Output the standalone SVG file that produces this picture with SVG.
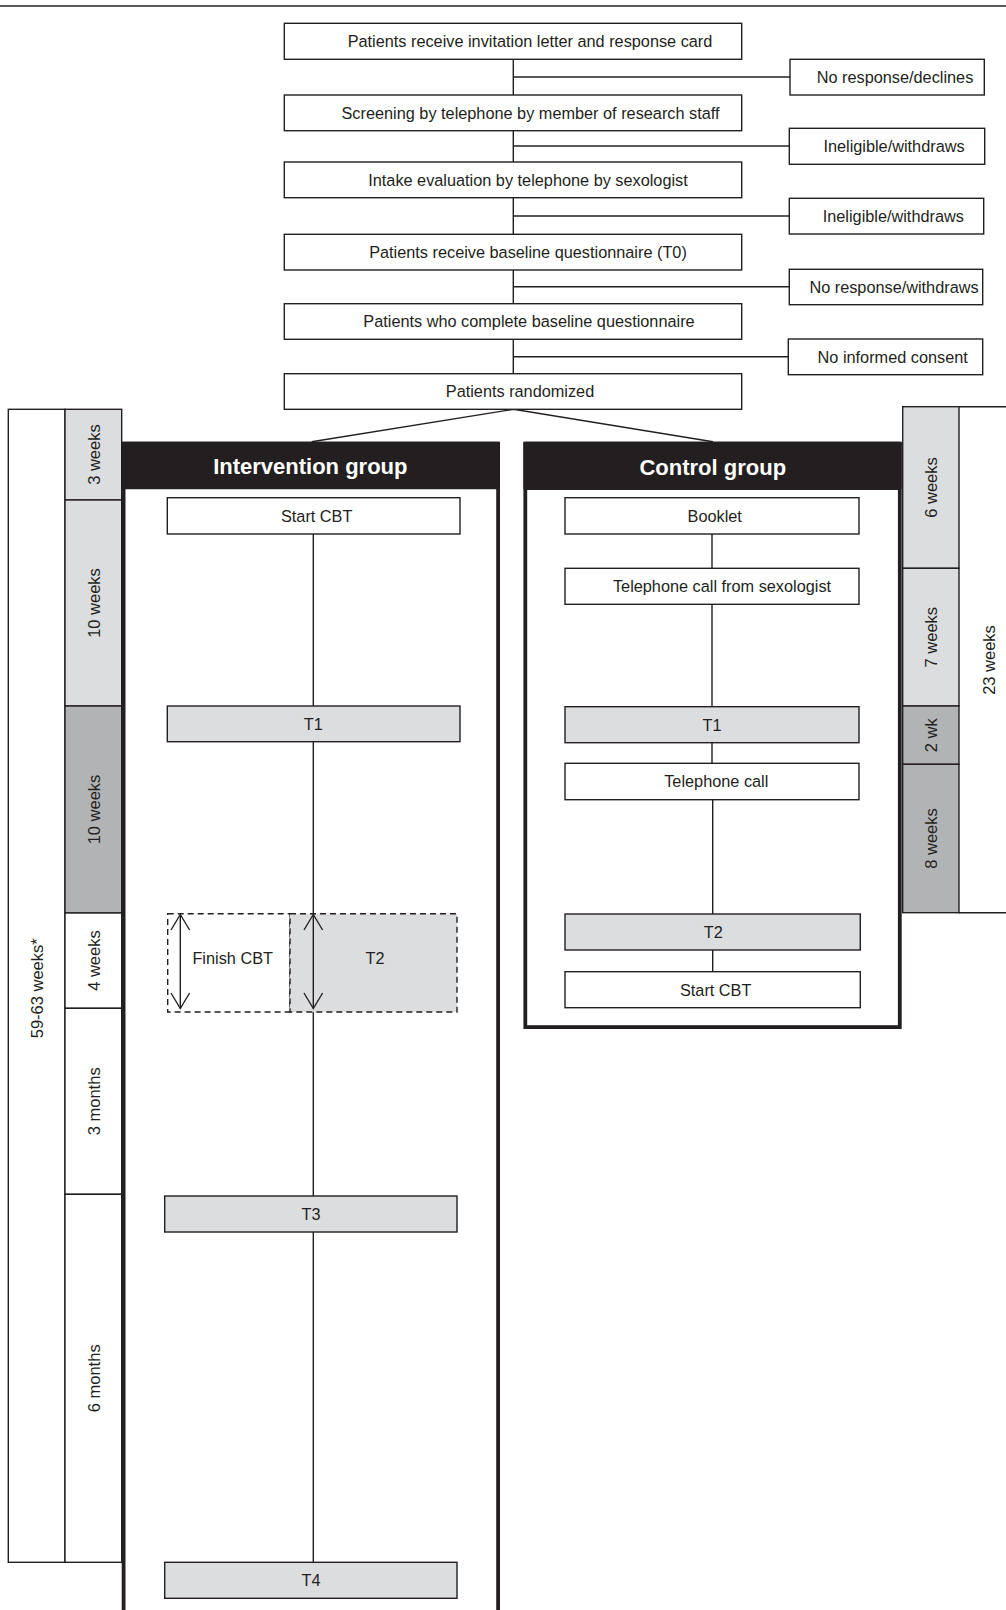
<svg xmlns="http://www.w3.org/2000/svg" width="1006" height="1610" viewBox="0 0 1006 1610">
<style>
text{font-family:"Liberation Sans",Arial,sans-serif;fill:#231f20;font-size:16.3px;text-anchor:middle}
.box{fill:#fff;stroke:#231f20;stroke-width:1.4}
.gbox{fill:#dcdddf;stroke:#231f20;stroke-width:1.4}
.dbox{fill:#b2b3b5;stroke:#231f20;stroke-width:1.4}
.dash{stroke:#231f20;stroke-width:1.4;stroke-dasharray:6 4}
.ln{stroke:#231f20;stroke-width:1.4;fill:none}
.frame{fill:#fff;stroke:#231f20;stroke-width:3.8}
.hdr{fill:#231f20}
.ht{fill:#fff;font-weight:bold;font-size:22px}
.rt{font-size:16.5px}
</style>
<rect x="0" y="0" width="1006" height="1610" fill="#fff"/>
<line x1="0" y1="6" x2="1006" y2="6" stroke="#231f20" stroke-width="1.7"/>

<g id="connectors">
<line class="ln" x1="513.3" y1="59.3" x2="513.3" y2="95"/>
<line class="ln" x1="513.3" y1="130.7" x2="513.3" y2="162"/>
<line class="ln" x1="513.3" y1="197.7" x2="513.3" y2="234.3"/>
<line class="ln" x1="513.3" y1="270" x2="513.3" y2="303.7"/>
<line class="ln" x1="513.3" y1="339.3" x2="513.3" y2="373.7"/>
<line class="ln" x1="513.3" y1="77" x2="790" y2="77"/>
<line class="ln" x1="513.3" y1="146" x2="789.3" y2="146"/>
<line class="ln" x1="513.3" y1="216" x2="789.3" y2="216"/>
<line class="ln" x1="513.3" y1="286.7" x2="789.3" y2="286.7"/>
<line class="ln" x1="513.3" y1="356.7" x2="788.3" y2="356.7"/>
<polyline class="ln" points="311.7,441.7 513.5,409.3 713,441.7" stroke-width="1.8"/>
</g>

<g id="n1"><rect class="box" x="284.3" y="23.3" width="457.4" height="36"/><text x="530" y="47">Patients receive invitation letter and response card</text></g>
<g id="n2"><rect class="box" x="284.3" y="95" width="457.4" height="35.7"/><text x="530.5" y="118.6">Screening by telephone by member of research staff</text></g>
<g id="n3"><rect class="box" x="284.3" y="162" width="457.4" height="35.7"/><text x="528" y="185.6">Intake evaluation by telephone by sexologist</text></g>
<g id="n4"><rect class="box" x="284.3" y="234.3" width="457.4" height="35.7"/><text x="528" y="257.9">Patients receive baseline questionnaire (T0)</text></g>
<g id="n5"><rect class="box" x="284.3" y="303.7" width="457.4" height="35.6"/><text x="529" y="327.3">Patients who complete baseline questionnaire</text></g>
<g id="n6"><rect class="box" x="284.3" y="373.7" width="457.4" height="35.6"/><text x="520" y="397.3">Patients randomized</text></g>

<g id="s1"><rect class="box" x="790" y="59.3" width="194.3" height="35.7"/><text x="895" y="82.9">No response/declines</text></g>
<g id="s2"><rect class="box" x="789.3" y="128.3" width="195.4" height="36"/><text x="894" y="152.1">Ineligible/withdraws</text></g>
<g id="s3"><rect class="box" x="789.3" y="198.3" width="194.4" height="35.7"/><text x="893.3" y="221.9">Ineligible/withdraws</text></g>
<g id="s4"><rect class="box" x="789.3" y="269.3" width="193.4" height="35.4"/><text x="894" y="292.8">No response/withdraws</text></g>
<g id="s5"><rect class="box" x="788.3" y="339" width="194.4" height="35.7"/><text x="892.7" y="362.6">No informed consent</text></g>

<g id="left-timeline">
<rect class="box" x="8.3" y="409.3" width="56.7" height="1153"/>
<rect class="gbox" x="65" y="409.3" width="56.7" height="90.7"/>
<rect class="gbox" x="65" y="500" width="56.7" height="206"/>
<rect class="dbox" x="65" y="706" width="56.7" height="207"/>
<rect class="box" x="65" y="913" width="56.7" height="95.3"/>
<rect class="box" x="65" y="1008.3" width="56.7" height="186"/>
<rect class="box" x="65" y="1194.3" width="56.7" height="368"/>
<text class="rt" transform="translate(99.5,454.6) rotate(-90)">3 weeks</text>
<text class="rt" transform="translate(99.5,603) rotate(-90)">10 weeks</text>
<text class="rt" transform="translate(99.5,809.5) rotate(-90)">10 weeks</text>
<text class="rt" transform="translate(99.5,960.6) rotate(-90)">4 weeks</text>
<text class="rt" transform="translate(99.5,1101.3) rotate(-90)">3 months</text>
<text class="rt" transform="translate(99.5,1378.3) rotate(-90)">6 months</text>
<text class="rt" transform="translate(43,988.3) rotate(-90)">59-63 weeks*</text>
</g>

<g id="right-timeline">
<line class="ln" x1="959" y1="406.7" x2="1006" y2="406.7"/>
<line class="ln" x1="959" y1="912.7" x2="1006" y2="912.7"/>
<rect class="gbox" x="902.7" y="406.7" width="56.3" height="161.6"/>
<rect class="gbox" x="902.7" y="568.3" width="56.3" height="137.7"/>
<rect class="dbox" x="902.7" y="706" width="56.3" height="58.3"/>
<rect class="dbox" x="902.7" y="764.3" width="56.3" height="148.4"/>
<text class="rt" transform="translate(936.6,487.5) rotate(-90)">6 weeks</text>
<text class="rt" transform="translate(936.6,637.2) rotate(-90)">7 weeks</text>
<text class="rt" transform="translate(936.6,735.2) rotate(-90)">2 wk</text>
<text class="rt" transform="translate(936.6,838.5) rotate(-90)">8 weeks</text>
<text class="rt" transform="translate(994.5,660) rotate(-90)">23 weeks</text>
</g>

<g id="intervention-group">
<rect class="frame" x="123.6" y="443.6" width="374.5" height="1200"/>
<rect class="hdr" x="121.7" y="441.7" width="378.3" height="47.6" rx="1.5"/>
<text class="ht" x="310.3" y="474">Intervention group</text>
<g class="ln">
<line x1="313.3" y1="534" x2="313.3" y2="706"/>
<line x1="313.3" y1="741.7" x2="313.3" y2="913.7"/>
<line x1="313.3" y1="1012" x2="313.3" y2="1196"/>
<line x1="313.3" y1="1232" x2="313.3" y2="1562.3"/>
</g>
<g id="i-start"><rect class="box" x="167.3" y="497.7" width="292.7" height="36.3"/><text x="316.7" y="522">Start CBT</text></g>
<g id="i-t1"><rect class="gbox" x="167.3" y="706" width="292.7" height="35.7"/><text x="313.3" y="729.6">T1</text></g>
<g id="i-finish"><rect class="dash" fill="#fff" x="167.7" y="913.7" width="122.3" height="98.3"/><text x="232.7" y="964">Finish CBT</text></g>
<g id="i-t2"><rect class="dash" fill="#dcdddf" x="290" y="913.7" width="167" height="98.3"/><text x="375" y="964">T2</text></g>
<g class="ln">
<line x1="180.3" y1="914.5" x2="180.3" y2="1008.5"/>
<polyline points="171,930 180.3,914.5 189.6,930"/>
<polyline points="171,993 180.3,1008.5 189.6,993"/>
<line x1="313.3" y1="914.5" x2="313.3" y2="1008.5"/>
<polyline points="304,930 313.3,914.5 322.6,930"/>
<polyline points="304,993 313.3,1008.5 322.6,993"/>
</g>
<g id="i-t3"><rect class="gbox" x="164.7" y="1196" width="292.3" height="36"/><text x="311" y="1220">T3</text></g>
<g id="i-t4"><rect class="gbox" x="164.7" y="1562.3" width="292.3" height="36"/><text x="311" y="1586.3">T4</text></g>
</g>

<g id="control-group">
<rect class="frame" x="525.3" y="443.6" width="374.5" height="583.5"/>
<rect class="hdr" x="523.4" y="441.7" width="378.3" height="48.3" rx="1.5"/>
<text class="ht" x="712.8" y="475">Control group</text>
<g class="ln">
<line x1="712" y1="534" x2="712" y2="568.3"/>
<line x1="712" y1="604.3" x2="712" y2="706.7"/>
<line x1="712" y1="742.7" x2="712" y2="763.3"/>
<line x1="712.7" y1="799.7" x2="712.7" y2="914"/>
<line x1="712.7" y1="950" x2="712.7" y2="971.7"/>
</g>
<g id="c-booklet"><rect class="box" x="565" y="497.7" width="294" height="36.3"/><text x="714.7" y="522">Booklet</text></g>
<g id="c-call1"><rect class="box" x="565" y="568.3" width="294" height="36"/><text x="722" y="592.2">Telephone call from sexologist</text></g>
<g id="c-t1"><rect class="gbox" x="565" y="706.7" width="294" height="36"/><text x="712" y="730.5">T1</text></g>
<g id="c-call2"><rect class="box" x="565" y="763.3" width="294" height="36.4"/><text x="716.3" y="787.3">Telephone call</text></g>
<g id="c-t2"><rect class="gbox" x="565" y="914" width="295.3" height="36"/><text x="713.3" y="937.8">T2</text></g>
<g id="c-start"><rect class="box" x="565" y="971.7" width="295.3" height="36"/><text x="715.7" y="995.5">Start CBT</text></g>
</g>
</svg>
